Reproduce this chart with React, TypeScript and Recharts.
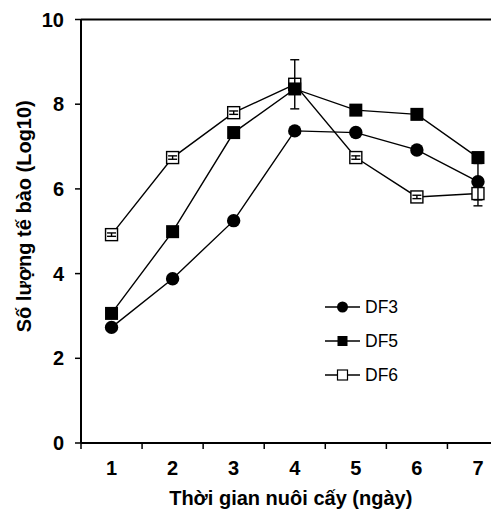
import { LineChart, Line, XAxis, YAxis, ErrorBar, ReferenceLine, Legend, Label } from 'recharts'

const DAYS = [1, 2, 3, 4, 5, 6, 7]
// tick positions: integers carry the day labels, half steps carry the tick marks
const X_TICKS = [0.5, 1, 1.5, 2, 2.5, 3, 3.5, 4, 4.5, 5, 5.5, 6, 6.5, 7, 7.5]
const Y_TICKS = [0, 2, 4, 6, 8, 10]

const DF3 = [2.73, 3.88, 5.25, 7.37, 7.33, 6.92, 6.17]
const DF3_ERR = [0, 0, 0, 0, 0, 0, 0.43]
const DF5 = [3.06, 4.99, 7.33, 8.36, 7.86, 7.76, 6.74]
const DF6 = [4.92, 6.74, 7.8, 8.47, 6.74, 5.81, 5.89]
const DF6_ERR = [0.04, 0.04, 0.04, 0.58, 0.04, 0.04, 0.29]

const SERIES = ['DF3', 'DF5', 'DF6']

const CHART_W = 520
const CHART_H = 510
const FONT = '"Liberation Sans", Arial, sans-serif'
const tickStyle = { fontSize: 20, fontWeight: 700, fill: '#000', fontFamily: FONT }

const data = DAYS.map((d, i) => ({
  day: d,
  df3: DF3[i],
  df3Err: DF3_ERR[i],
  df5: DF5[i],
  df6: DF6[i],
  df6Err: DF6_ERR[i],
}))

// eslint-disable-next-line @typescript-eslint/no-explicit-any
const circleDot = (p: any) => <circle key={p.index} cx={p.cx} cy={p.cy} r={6.7} fill="#000" />
// eslint-disable-next-line @typescript-eslint/no-explicit-any
const blackSquare = (p: any) => <rect key={p.index} x={p.cx - 6.5} y={p.cy - 6.5} width={13} height={13} fill="#000" />
// eslint-disable-next-line @typescript-eslint/no-explicit-any
const whiteSquare = (p: any) => (
  <rect key={p.index} x={p.cx - 6} y={p.cy - 6} width={12} height={12} fill="#fff" stroke="#000" strokeWidth={1.4} />
)

// eslint-disable-next-line @typescript-eslint/no-explicit-any
const XTick = (p: any) => {
  const v = p.payload.value
  if (Number.isInteger(v)) {
    return <text x={p.x} y={p.y + 32} textAnchor="middle" {...tickStyle}>{v}</text>
  }
  return <line x1={p.x} x2={p.x} y1={p.y} y2={p.y + 6} stroke="#000" strokeWidth={1.5} />
}

function LegendBox() {
  return (
    <svg width={110} height={110} style={{ display: 'block' }}>
      {SERIES.map((name, i) => {
        const cy = 17 + i * 34
        return (
          <g key={name}>
            <line x1={5} x2={40} y1={cy} y2={cy} stroke="#000" strokeWidth={1.4} />
            {i === 0 && <circle cx={22.5} cy={cy} r={5.5} fill="#000" />}
            {i === 1 && <rect x={17.5} y={cy - 5} width={10} height={10} fill="#000" />}
            {i === 2 && <rect x={17.5} y={cy - 5} width={10} height={10} fill="#fff" stroke="#000" strokeWidth={1.2} />}
            <text x={45} y={cy + 6} fontSize={17.5} fontFamily={FONT} fill="#000">{name}</text>
          </g>
        )
      })}
    </svg>
  )
}

// eslint-disable-next-line @typescript-eslint/no-explicit-any
const yTitle = (props: any) => {
  const vb = props.viewBox
  const cx = 30.5
  const cy = vb.y + vb.height / 2 - 15
  return (
    <text x={cx} y={cy} transform={`rotate(-90 ${cx} ${cy})`} textAnchor="middle"
      fontSize={20} fontWeight={700} fontFamily={FONT} fill="#000">
      Số lượng tế bào (Log10)
    </text>
  )
}

// eslint-disable-next-line @typescript-eslint/no-explicit-any
const xTitle = (props: any) => {
  const vb = props.viewBox
  return (
    <text x={vb.x + vb.width / 2 - 4} y={CHART_H - 5} textAnchor="middle"
      fontSize={20} fontWeight={700} fontFamily={FONT} fill="#000">
      Thời gian nuôi cấy (ngày)
    </text>
  )
}

export default function App() {
  return (
    <div style={{ margin: '-8px 0 0 -8px', width: 499, height: CHART_H, overflow: 'hidden', position: 'relative' }}>
      <LineChart width={CHART_W} height={CHART_H} data={data} margin={{ top: 19.5, right: 11.5, bottom: 0, left: 0 }}>
        <XAxis dataKey="day" type="number" domain={[0.5, 7.5]} ticks={X_TICKS} height={67} interval={0}
          axisLine={{ stroke: '#000', strokeWidth: 2 }} tickLine={false} tickSize={0} tickMargin={0} tick={XTick}>
          <Label content={xTitle} />
        </XAxis>
        <YAxis domain={[0, 10]} ticks={Y_TICKS} width={81} tickSize={6} tickMargin={11} tick={tickStyle}
          axisLine={{ stroke: '#000', strokeWidth: 2 }} tickLine={{ stroke: '#000', strokeWidth: 1.5 }}>
          <Label content={yTitle} />
        </YAxis>
        <ReferenceLine y={10} stroke="#000" strokeWidth={2} />
        <Legend layout="vertical" align="center" verticalAlign="middle" content={() => <LegendBox />}
          wrapperStyle={{ left: 320, top: 290, width: 110, height: 110 }} />
        <Line dataKey="df3" name="DF3" type="linear" stroke="#000" strokeWidth={1.4} dot={circleDot}
          activeDot={false} isAnimationActive={false}>
          <ErrorBar dataKey="df3Err" width={4.5} stroke="#000" strokeWidth={1.4} isAnimationActive={false} />
        </Line>
        <Line dataKey="df6" name="DF6" type="linear" stroke="#000" strokeWidth={1.4} dot={whiteSquare}
          activeDot={false} isAnimationActive={false} />
        <Line dataKey="df5" name="DF5" type="linear" stroke="#000" strokeWidth={1.4} dot={blackSquare}
          activeDot={false} isAnimationActive={false} />
        <Line dataKey="df6" name="DF6 err" type="linear" stroke="none" dot={false} legendType="none"
          activeDot={false} isAnimationActive={false}>
          <ErrorBar dataKey="df6Err" width={4.5} stroke="#000" strokeWidth={1.4} isAnimationActive={false}
            zIndex={700} />
        </Line>
      </LineChart>
    </div>
  )
}
